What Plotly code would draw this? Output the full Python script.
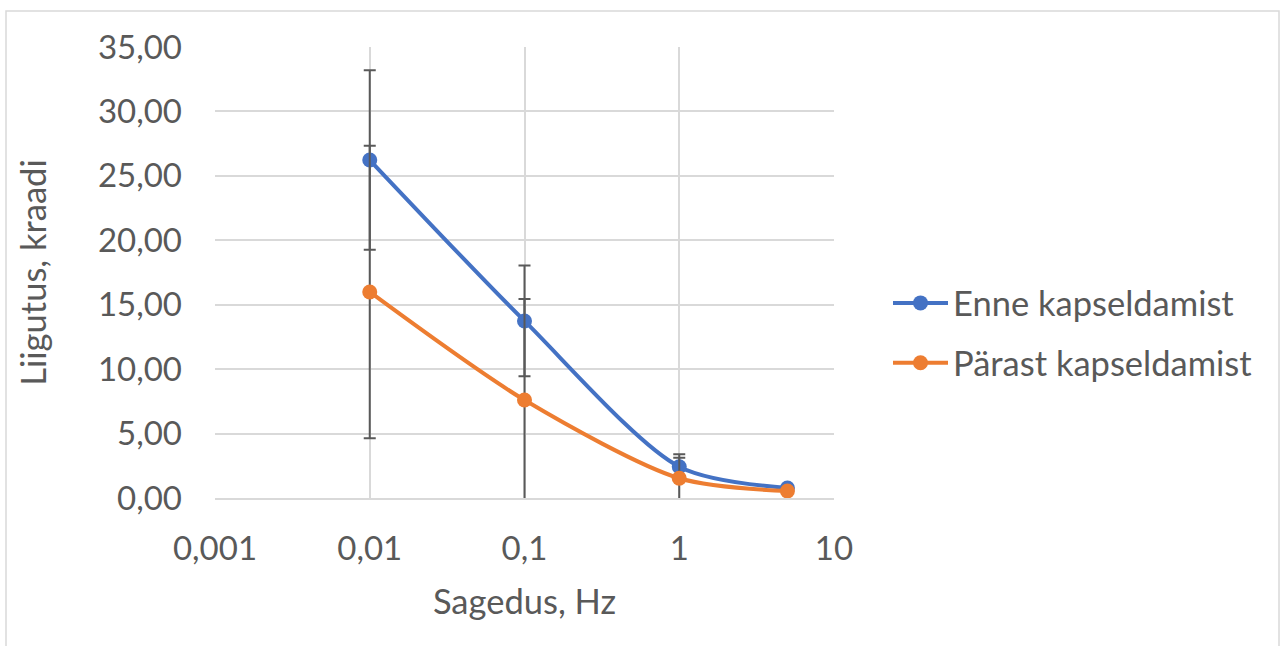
import plotly.graph_objects as go

freq = [0.01, 0.1, 1, 5]
enne = [26.23, 13.74, 2.43, 0.78]
enne_err = [6.97, 4.30, 0.96, 0.0]
parast = [15.99, 7.60, 1.53, 0.54]
parast_err = [11.35, 7.84, 1.60, 0.0]

x_tickvals = [0.001, 0.01, 0.1, 1, 10]
x_ticktext = ["0,001", "0,01", "0,1", "1", "10"]
y_tickvals = [0, 5, 10, 15, 20, 25, 30, 35]
y_ticktext = ["0,00", "5,00", "10,00", "15,00", "20,00", "25,00", "30,00", "35,00"]

FONT = "Lato"
TXT = "#595959"
GRID = "#d9d9d9"

W, H = 1285, 646
L, R, T, B = 215, 834, 47, 498

fig = go.Figure()
for name, ys, err, col, grp in [
    ("Enne kapseldamist", enne, enne_err, "#4472c4", "a"),
    ("Pärast kapseldamist", parast, parast_err, "#ed7d31", "b"),
]:
    fig.add_trace(go.Scatter(
        x=freq, y=ys, name=name, mode="lines+markers",
        legendgroup=grp,
        line=dict(color=col, width=4, shape="spline", smoothing=0.8),
        marker=dict(color=col, size=15),
        error_y=dict(type="data", array=err, visible=True, color="#595959",
                     thickness=2, width=6),
    ))

def px(xp):
    return (xp - L) / (R - L)

def py(yp):
    return (B - yp) / (B - T)

fig.add_shape(type="rect", xref="paper", yref="paper",
              x0=px(6), x1=px(1279), y0=py(700), y1=py(11),
              line=dict(color=GRID, width=1.5), layer="below")

fig.update_layout(
    width=W, height=H,
    margin=dict(l=L, r=W - R, t=T, b=H - B, pad=0),
    paper_bgcolor="white", plot_bgcolor="white",
    font=dict(family=FONT, color=TXT, size=33),
    showlegend=True,
    legend=dict(x=px(888), xanchor="left", y=py(333), yanchor="middle",
                font=dict(size=34.5, color=TXT), itemwidth=55,
                tracegroupgap=12, bgcolor="rgba(0,0,0,0)"),
    xaxis=dict(type="log", range=[-3, 1], tickvals=x_tickvals, ticktext=x_ticktext,
               showgrid=True, gridcolor=GRID, gridwidth=1.5,
               showline=True, linecolor=GRID, linewidth=2,
               ticks="", ticklabelstandoff=20, zeroline=False,
               tickfont=dict(size=33, color=TXT),
               title=dict(text="Sagedus, Hz", font=dict(size=34.5, color=TXT), standoff=24)),
    yaxis=dict(range=[0, 35], tickvals=y_tickvals, ticktext=y_ticktext,
               showgrid=True, gridcolor=GRID, gridwidth=1.5,
               showline=False, zeroline=False, ticks="", ticklabelstandoff=32,
               tickfont=dict(size=33, color=TXT),
               title=dict(text="Liigutus, kraadi", font=dict(size=34.5, color=TXT), standoff=40)),
)

fig.write_html("out.html")
